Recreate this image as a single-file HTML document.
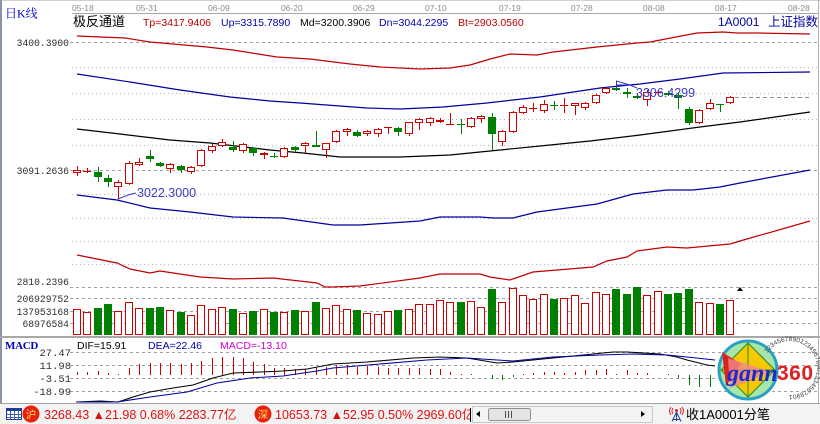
<!DOCTYPE html>
<html><head><meta charset="utf-8">
<style>
html,body{margin:0;padding:0;background:#fff;overflow:hidden;}
svg{display:block;}
</style></head><body>
<svg width="820" height="424" viewBox="0 0 820 424" xmlns="http://www.w3.org/2000/svg">
<defs>
<clipPath id="c1"><rect x="0" y="400" width="470" height="24"/></clipPath>
<clipPath id="c2"><rect x="200" y="336" width="87" height="20"/></clipPath>
<path id="ring" d="M767.4,353.3 A27,27 0 1,1 769.6,385.7"/>
</defs>
<rect x="0" y="0" width="820" height="424" fill="#fff"/>
<!-- borders -->
<rect x="0" y="0" width="820" height="1" fill="#d0d0d0"/>
<rect x="0" y="0" width="2" height="404" fill="#8a94a8"/>
<rect x="818" y="0" width="1" height="404" fill="#b0b0b0"/>
<rect x="72" y="13" width="746" height="1" fill="#a8a8a8"/>
<rect x="0" y="336" width="820" height="2" fill="#a8a8a8"/>

<!-- dates -->
<g font-family="Liberation Sans, sans-serif" font-size="8.5" fill="#8c8c8c">
<text x="72" y="11">05-18</text><text x="136" y="11">05-31</text><text x="208" y="11">06-09</text>
<text x="281" y="11">06-20</text><text x="353" y="11">06-29</text><text x="425" y="11">07-10</text>
<text x="499" y="11">07-19</text><text x="571" y="11">07-28</text><text x="643" y="11">08-08</text>
<text x="715" y="11">08-17</text><text x="788" y="11">08-28</text>
</g>
<text x="5" y="17.5" font-family="Liberation Serif, 'Noto Serif CJK SC', serif" font-size="12" fill="#0000c8">日K线</text>
<!-- title -->
<text x="73" y="26" font-family="'Liberation Sans','Noto Sans CJK SC',sans-serif" font-size="13" fill="#000">极反通道</text>
<g font-family="Liberation Sans, sans-serif" font-size="10.5">
<text x="143" y="26" fill="#c00000">Tp=3417.9406</text>
<text x="221" y="26" fill="#0000b0">Up=3315.7890</text>
<text x="300" y="26" fill="#000">Md=3200.3906</text>
<text x="379" y="26" fill="#0000b0">Dn=3044.2295</text>
<text x="458" y="26" fill="#c00000">Bt=2903.0560</text>
</g>
<text x="718" y="26" font-family="Liberation Sans, sans-serif" font-size="12" fill="#0000a0">1A0001</text>
<text x="768" y="26" font-family="'Liberation Sans','Noto Sans CJK SC',sans-serif" font-size="12.5" fill="#0000a0">上证指数</text>

<!-- grid main -->
<g stroke="#a0a0a0" stroke-width="1" stroke-dasharray="3 3" fill="none">
<path d="M70 42.5H818M70 170.5H818M70 287.5H818M70 298.5H818M70 311.5H818M70 323.5H818M70 352.5H818M70 365.5H818M70 378.5H818M70 391.5H818"/>
</g>
<g stroke="#b8b8b8" stroke-width="1" stroke-dasharray="1 3" fill="none">
<path d="M72 67.5H818M72 93.5H818M72 119.5H818M72 145.5H818M72 194.5H818M72 218.5H818M72 241.5H818M72 264.5H818"/>
</g>
<path d="M735 97.5H812" stroke="#909090" stroke-dasharray="4 3" fill="none"/>

<!-- axis labels -->
<g font-family="Liberation Mono, monospace" font-size="9.7" fill="#303030" text-anchor="end">
<text x="69" y="46">3400.3900</text>
<text x="69" y="174">3091.2636</text>
<text x="69" y="285">2810.2396</text>
<text x="69" y="302">206929752</text>
<text x="69" y="315">137953168</text>
<text x="69" y="327">68976584</text>
</g>
<g font-family="Liberation Mono, monospace" font-size="10.5" fill="#303030" text-anchor="end">
<text x="71" y="356">27.47</text>
<text x="71" y="369">11.98</text>
<text x="71" y="382">-3.51</text>
<text x="71" y="395">-18.99</text>
</g>

<!-- channel lines -->
<g fill="none" stroke-width="1.2">
<polyline stroke="#c00000" points="77,36 125,38 150,42 207,47 233,50 277,57 310,59 350,64 380,67 420,69 450,68 470,65 490,59 510,54 537,55 553,52 597,47 637,43 650,42 697,33 723,32 737,33 757,33 810,34"/>
<polyline stroke="#0000a0" points="77,74 130,82 180,90 230,97 270,101 300,103 340,106 367,108 400,109 443,107 487,103 513,100 540,97 600,88 640,84 680,79 723,73 810,72"/>
<polyline stroke="#000" points="77,129 120,134 170,140 210,143 270,150 303,153 340,157 400,157 450,155 500,150 540,146 590,141 640,135 700,127 740,122 810,112"/>
<polyline stroke="#0000a0" points="77,195 117,200 150,208 190,212 233,217 283,218 333,225 360,225 420,221 440,217 480,217 493,218 513,218 537,212 567,208 597,204 633,194 667,190 693,190 720,187 740,183 810,170"/>
<polyline stroke="#c00000" points="77,255 117,263 130,269 150,273 160,271 200,277 233,279 273,278 317,283 325,287 333,287 360,286 420,278 440,274 480,274 490,277 510,280 533,272 593,267 607,261 627,257 637,251 667,247 687,248 730,244 740,241 810,221"/>
</g>

<!-- red candles -->
<g fill="#fff" stroke="#d00000" stroke-width="1">
<rect x="73.5" y="170.5" width="7" height="2"/>
<rect x="114.5" y="182.5" width="7" height="4"/>
<rect x="125.5" y="163.5" width="7" height="20"/>
<rect x="135.5" y="162.5" width="7" height="2"/>
<rect x="166.5" y="164.5" width="7" height="4"/>
<rect x="187.5" y="167.5" width="7" height="4"/>
<rect x="197.5" y="150.5" width="7" height="15"/>
<rect x="208.5" y="146.5" width="7" height="4"/>
<rect x="218.5" y="142.5" width="7" height="3"/>
<rect x="239.5" y="144.5" width="7" height="6"/>
<rect x="260.5" y="153.5" width="7" height="1"/>
<rect x="280.5" y="148.5" width="7" height="8"/>
<rect x="301.5" y="143.5" width="7" height="2"/>
<rect x="322.5" y="143.5" width="7" height="6"/>
<rect x="332.5" y="131.5" width="7" height="10"/>
<rect x="343.5" y="129.5" width="7" height="2"/>
<rect x="363.5" y="131.5" width="7" height="2"/>
<rect x="374.5" y="129.5" width="7" height="4"/>
<rect x="405.5" y="122.5" width="7" height="11"/>
<rect x="415.5" y="119.5" width="7" height="3"/>
<rect x="426.5" y="118.5" width="7" height="4"/>
<rect x="467.5" y="118.5" width="7" height="8"/>
<rect x="477.5" y="116.5" width="7" height="2"/>
<rect x="498.5" y="131.5" width="7" height="10"/>
<rect x="509.5" y="112.5" width="7" height="19"/>
<rect x="519.5" y="107.5" width="7" height="5"/>
<rect x="540.5" y="104.5" width="7" height="6"/>
<rect x="571.5" y="103.5" width="7" height="2"/>
<rect x="581.5" y="103.5" width="7" height="4"/>
<rect x="592.5" y="95.5" width="7" height="7"/>
<rect x="602.5" y="88.5" width="7" height="4"/>
<rect x="643.5" y="92.5" width="7" height="7"/>
<rect x="695.5" y="110.5" width="7" height="12"/>
<rect x="706.5" y="103.5" width="7" height="5"/>
<rect x="726.5" y="97.5" width="7" height="5"/>
<path fill="none" d="M77.5 166V170M77.5 173V176M118.5 180V182M118.5 187V199M129.5 161V163M129.5 184V185M139.5 158V162M139.5 165V166M170.5 163V164M170.5 169V173M191.5 166V167M191.5 172V174M201.5 149V150M201.5 166V167M212.5 144V146M212.5 151V153M222.5 139V142M222.5 146V147M243.5 143V144M243.5 151V153M264.5 152V153M264.5 155V159M284.5 147V148M284.5 157V158M305.5 142V143M305.5 146V153M326.5 150V158M336.5 130V131M336.5 142V143M347.5 128V129M347.5 132V136M367.5 130V131M367.5 134V136M378.5 128V129M378.5 134V137M409.5 134V136M419.5 118V119M419.5 123V130M430.5 117V118M430.5 123V126M471.5 117V118M471.5 127V128M481.5 115V116M481.5 119V123M502.5 130V131M502.5 142V146M513.5 111V112M513.5 132V133M523.5 105V107M523.5 113V114M544.5 100V104M544.5 111V113M575.5 106V115M585.5 102V103M585.5 108V110M596.5 94V95M596.5 103V104M606.5 87V88M606.5 93V94M647.5 90V92M647.5 100V106M699.5 109V110M699.5 123V124M710.5 99V103M710.5 109V110M730.5 96V97M730.5 103V104"/>
<path fill="none" d="M83 171.5H91M87.5 168V173M384 127.5H392M388.5 127V134M436 121.5H444M436 120.5H444M440.5 118V123M446 124.5H454M450.5 113V124M529 108.5H537M533.5 103V112M560 105.5H568M564.5 98V113M654 92.5H662M658.5 90V95"/>
</g>
<!-- green candles -->
<g fill="#008000" stroke="none">
<rect x="94" y="172" width="8" height="5"/>
<rect x="104" y="178" width="8" height="4"/>
<rect x="146" y="156" width="8" height="3"/>
<rect x="156" y="163" width="8" height="3"/>
<rect x="177" y="166" width="8" height="4"/>
<rect x="229" y="147" width="8" height="3"/>
<rect x="249" y="148" width="8" height="5"/>
<rect x="291" y="147" width="8" height="3"/>
<rect x="312" y="145" width="8" height="2"/>
<rect x="353" y="132" width="8" height="4"/>
<rect x="394" y="128" width="8" height="4"/>
<rect x="488" y="117" width="8" height="17"/>
<rect x="612" y="88" width="8" height="2"/>
<rect x="623" y="92" width="8" height="2"/>
<rect x="633" y="96" width="8" height="2"/>
<rect x="664" y="93" width="8" height="2"/>
<rect x="674" y="95" width="8" height="3"/>
<rect x="685" y="109" width="8" height="14"/>
</g>
<path fill="none" stroke="#008000" stroke-width="1" d="M98.5 167V182M108.5 175V187M150.5 150V162M160.5 162V167M181.5 165V173M233.5 141V152M253.5 147V156M295.5 146V152M316.5 131V147M357.5 130V137M398.5 127V136M492.5 113V150M616.5 82V91M627.5 88V98M637.5 93V99M668.5 91V96M678.5 93V109M689.5 107V125M270 156.5H278M274.5 153V158M457 124.5H465M461.5 119V134M550 105.5H558M554.5 101V110M716 104.5H724M720.5 104V112"/>

<!-- markers -->
<polyline points="118,199 128,195 136,193" fill="none" stroke="#3333cc"/>
<text x="137" y="197" font-family="Liberation Sans, sans-serif" font-size="12.5" fill="#3a3acc">3022.3000</text>
<polyline points="616.5,89 616.5,81 630,85 617,85" fill="none" stroke="#3333cc"/>
<line x1="630" y1="85" x2="637" y2="88" stroke="#3333cc"/>
<text x="636" y="97" font-family="Liberation Sans, sans-serif" font-size="12.5" fill="#3a3acc">3306.4299</text>

<!-- volume -->
<g fill="#fff" stroke="#d00000" stroke-width="1">
<rect x="73.5" y="309.5" width="7" height="25"/><rect x="83.5" y="312.5" width="7" height="22"/>
<rect x="114.5" y="311.5" width="7" height="23"/><rect x="125.5" y="302.5" width="7" height="32"/>
<rect x="135.5" y="308.5" width="7" height="26"/><rect x="166.5" y="310.5" width="7" height="24"/>
<rect x="187.5" y="315.5" width="7" height="19"/><rect x="197.5" y="305.5" width="7" height="29"/>
<rect x="208.5" y="309.5" width="7" height="25"/><rect x="218.5" y="307.5" width="7" height="27"/>
<rect x="239.5" y="313.5" width="7" height="21"/><rect x="260.5" y="309.5" width="7" height="25"/>
<rect x="280.5" y="312.5" width="7" height="22"/><rect x="301.5" y="311.5" width="7" height="23"/>
<rect x="322.5" y="308.5" width="7" height="26"/><rect x="332.5" y="305.5" width="7" height="29"/>
<rect x="343.5" y="309.5" width="7" height="25"/><rect x="363.5" y="313.5" width="7" height="21"/>
<rect x="374.5" y="314.5" width="7" height="20"/><rect x="384.5" y="311.5" width="7" height="23"/>
<rect x="405.5" y="309.5" width="7" height="25"/><rect x="415.5" y="304.5" width="7" height="30"/>
<rect x="426.5" y="304.5" width="7" height="30"/><rect x="436.5" y="300.5" width="7" height="34"/>
<rect x="446.5" y="302.5" width="7" height="32"/><rect x="467.5" y="301.5" width="7" height="33"/>
<rect x="477.5" y="307.5" width="7" height="27"/><rect x="498.5" y="302.5" width="7" height="32"/>
<rect x="509.5" y="288.5" width="7" height="46"/><rect x="519.5" y="295.5" width="7" height="39"/>
<rect x="529.5" y="299.5" width="7" height="35"/><rect x="540.5" y="294.5" width="7" height="40"/>
<rect x="560.5" y="298.5" width="7" height="36"/><rect x="571.5" y="295.5" width="7" height="39"/>
<rect x="581.5" y="303.5" width="7" height="31"/><rect x="592.5" y="292.5" width="7" height="42"/>
<rect x="602.5" y="294.5" width="7" height="40"/><rect x="643.5" y="295.5" width="7" height="39"/>
<rect x="654.5" y="291.5" width="7" height="43"/><rect x="695.5" y="302.5" width="7" height="32"/>
<rect x="706.5" y="303.5" width="7" height="31"/><rect x="726.5" y="300.5" width="7" height="34"/>
</g>
<g fill="#008000">
<rect x="94" y="308" width="8" height="27"/><rect x="104" y="304" width="8" height="31"/>
<rect x="146" y="308" width="8" height="27"/><rect x="156" y="307" width="8" height="28"/>
<rect x="177" y="312" width="8" height="23"/><rect x="229" y="309" width="8" height="26"/>
<rect x="249" y="311" width="8" height="24"/><rect x="270" y="312" width="8" height="23"/>
<rect x="291" y="310" width="8" height="25"/><rect x="312" y="302" width="8" height="33"/>
<rect x="353" y="310" width="8" height="25"/><rect x="394" y="310" width="8" height="25"/>
<rect x="457" y="302" width="8" height="33"/><rect x="488" y="289" width="8" height="46"/>
<rect x="550" y="299" width="8" height="36"/><rect x="612" y="289" width="8" height="46"/>
<rect x="623" y="294" width="8" height="41"/><rect x="633" y="287" width="8" height="48"/>
<rect x="664" y="294" width="8" height="41"/><rect x="674" y="293" width="8" height="42"/>
<rect x="685" y="289" width="8" height="46"/><rect x="716" y="304" width="8" height="31"/>
</g>
<polygon points="737,291 743,291 740,287" fill="#000"/>

<!-- MACD header -->
<text x="5" y="349" font-family="Liberation Serif, serif" font-size="11" font-weight="bold" fill="#0000c0" letter-spacing="-0.3">MACD</text>
<g font-family="Liberation Sans, sans-serif" font-size="10.5">
<text x="77" y="349" fill="#000">DIF=15.91</text>
<text x="148" y="349" fill="#0000b0">DEA=22.46</text>
<text x="220" y="349" fill="#d000d0" clip-path="url(#c2)">MACD=-13.10</text>
</g>
<!-- MACD hist -->
<path fill="none" stroke="#d00000" stroke-width="1" d="M77.5 375V372M87.5 375V372M98.5 375V371M108.5 375V373M118.5 375V374M129.5 375V368M139.5 375V364M150.5 375V363M160.5 375V363M170.5 375V363M181.5 375V364M191.5 375V363M201.5 375V361M212.5 375V358M222.5 375V357M233.5 375V357M243.5 375V358M253.5 375V362M264.5 375V364M274.5 375V368M284.5 375V368M295.5 375V369M305.5 375V369M316.5 375V368M326.5 375V367M336.5 375V365M347.5 375V365M357.5 375V367M367.5 375V366M378.5 375V367M388.5 375V368M398.5 375V368M409.5 375V368M419.5 375V368M430.5 375V369M440.5 375V369M450.5 375V372M461.5 375V374M471.5 375V374M523.5 375V374M533.5 375V373M544.5 375V372M554.5 375V372M564.5 375V373M575.5 375V372M585.5 375V370M596.5 375V370M606.5 375V369M616.5 375V374M627.5 375V370M637.5 375V373M647.5 375V373M668.5 375V374"/>
<path fill="none" stroke="#008000" stroke-width="1" d="M492.5 375V379M502.5 375V380M513.5 375V377M678.5 375V378M689.5 375V385M699.5 375V387M710.5 375V387"/>
<polyline fill="none" stroke="#000" stroke-width="1.1" points="76,402 100,401 118,402 133,397 150,392 173,388 193,385 213,378 233,373 260,372 283,371 307,369 333,364 367,362 413,358 440,357 467,358 497,363 513,362 553,358 593,354 613,352 627,352 660,354 677,357 687,360 707,365 715,366"/>
<polyline fill="none" stroke="#0000a0" stroke-width="1.1" points="76,402 117,402 150,397 187,392 217,383 250,378 283,376 317,371 333,368 380,364 427,360 467,358 497,360 513,361 553,357 600,355 633,354 667,355 687,357 715,360"/>

<!-- gann logo -->
<g>
<circle cx="748" cy="370" r="29" fill="#a6e6a6" stroke="#2aa0c4" stroke-width="3"/>
<polygon points="748,343 775,370 748,397 721,370" fill="#f6c800" stroke="#2a8a2a" stroke-width="1"/>
<line x1="748" y1="343" x2="748" y2="397" stroke="#2a8a2a"/>
<line x1="721" y1="370" x2="775" y2="370" stroke="#2a8a2a"/>
<polygon points="722,352 741,364 726,386" fill="#e02020"/>
<polygon points="728,358 772,372 730,388" fill="#f08a8a" opacity="0.8"/>
<text x="727" y="381" font-family="Liberation Serif, serif" font-style="italic" font-weight="bold" font-size="24" fill="#1a2ad0">gann</text>
<text x="777" y="380" font-family="Liberation Sans, sans-serif" font-weight="bold" font-size="21" fill="#e02020" letter-spacing="0.5">360</text>
<text font-family="Liberation Sans, sans-serif" font-size="6.5" fill="#404040"><textPath href="#ring">1234567890123456789012345678901</textPath></text>
</g>

<!-- status bar -->
<rect x="0" y="404" width="820" height="20" fill="#f3f3f3"/>
<rect x="0" y="403" width="820" height="1" fill="#a0a0a0"/>
<g>
<rect x="6.5" y="408.5" width="15" height="11" fill="#fff" stroke="#1c3f94"/>
<rect x="6" y="408" width="16" height="3" fill="#1c3f94"/>
<path d="M10.5 411V419M14.5 411V419M18.5 411V419M7 414.5H21M7 417.5H21" stroke="#4060b0" stroke-width="1"/>
</g>
<circle cx="31" cy="414" r="8.5" fill="#e8200c"/>
<text x="31" y="418" text-anchor="middle" font-family="'Noto Sans CJK SC',sans-serif" font-size="10.5" fill="#ffe060">沪</text>
<circle cx="263" cy="414" r="8.5" fill="#e8200c"/>
<text x="263" y="418" text-anchor="middle" font-family="'Noto Sans CJK SC',sans-serif" font-size="10.5" fill="#ffe060">深</text>
<g font-family="'Liberation Sans','Noto Sans CJK SC',sans-serif" font-size="12.5" fill="#e01010" clip-path="url(#c1)">
<text x="44" y="419">3268.43 ▲21.98 0.68% 2283.77亿</text>
<text x="275" y="419">10653.73 ▲52.95 0.50% 2969.60亿</text>
</g>
<line x1="470.5" y1="408" x2="470.5" y2="422" stroke="#000"/>
<rect x="472.5" y="406.5" width="180" height="16" fill="#f4f4f4" stroke="#c8c8c8"/>
<polygon points="476,414 480,411 480,417" fill="#000"/>
<rect x="488.5" y="408.5" width="42" height="12" rx="2" fill="#e4e4e4" stroke="#909090"/>
<path d="M505.5 411V418M508.5 411V418M511.5 411V418" stroke="#505050"/>
<polygon points="645,414 641,411 641,417" fill="#000"/>
<g stroke-width="1" fill="none">
<path d="M676.5 411V421M672 421.5L676.5 412L681 421.5M673 419.5H680" stroke="#1c3f94"/>
<path d="M673 408Q671 411 673 414M680 408Q682 411 680 414M671 407Q668 411 671 415M682 407Q685 411 682 415" stroke="#e02020"/>
<circle cx="676.5" cy="410.5" r="1.5" fill="#e02020" stroke="none"/>
</g>
<text x="686" y="419" font-family="'Liberation Sans','Noto Sans CJK SC',sans-serif" font-size="13" fill="#000">收1A0001分笔</text>
</svg>
</body></html>
